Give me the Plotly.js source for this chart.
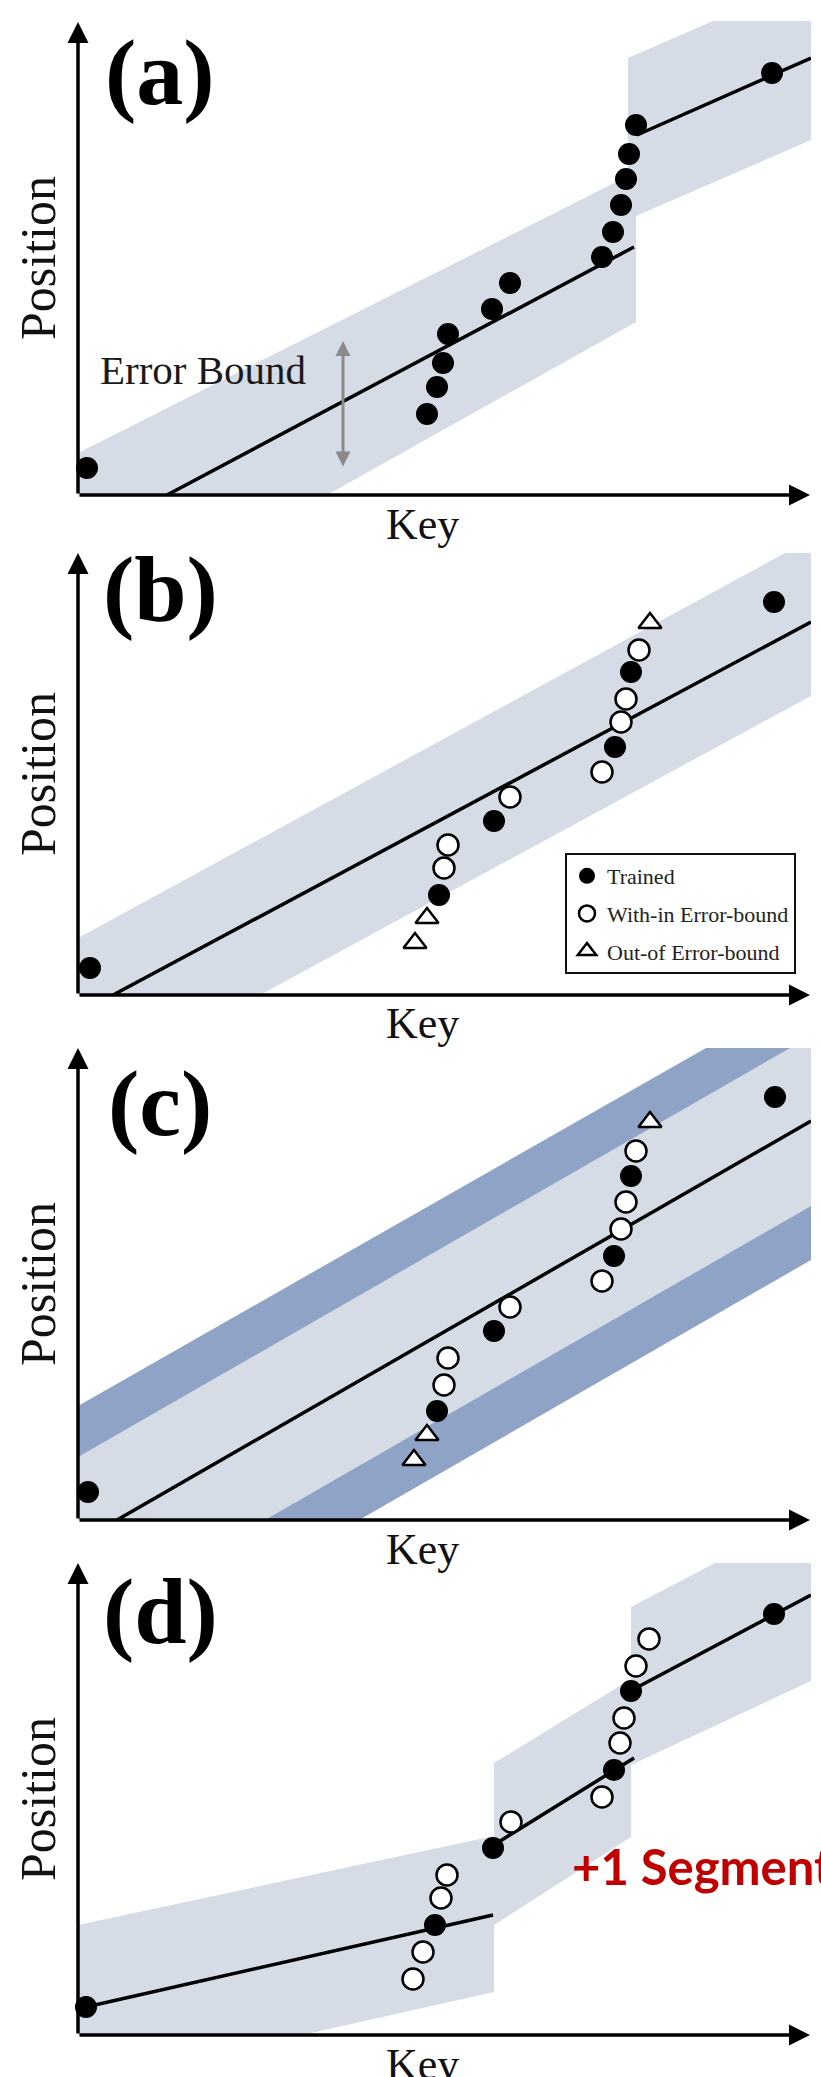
<!DOCTYPE html>
<html>
<head>
<meta charset="utf-8">
<script src="https://cdn.plot.ly/plotly-3.0.1.min.js"></script>
<style>html,body{margin:0;padding:0;background:#fff;}#chart{width:821px;height:2077px;}</style>
</head>
<body>
<div id="chart"></div>
<script>
// ---------- Panel (a): one model, two segments ----------
const aTrainedKey = [9, 349, 359, 365, 370, 414, 432, 524, 535, 543, 548, 551, 558, 694];
const aTrainedPos = [27, 81, 108, 132, 161, 186, 212, 238, 263, 290, 316, 341, 370, 422];
const aSeg1Key = [89, 556];
const aSeg1Pos = [0, 248];
const aSeg2Key = [559, 733];
const aSeg2Pos = [360, 437];
const aBand1Key = [0, 0, 558, 558, 249];
const aBand1Pos = [0, 42, 323, 173, 0];
const aBand2Key = [550, 635, 733, 733, 558, 550];
const aBand2Pos = [437, 474, 474, 355, 279, 279];
const aErrorArrowKey = [265, 265];
const aErrorArrowPos = [154, 27];

// ---------- Panel (b) ----------
const bTrainedKey = [12, 361, 416, 537, 553, 696];
const bTrainedPos = [27, 100, 174, 248, 323, 393];
const bWithinKey = [366, 370, 432, 524, 543, 548, 561];
const bWithinPos = [127, 150, 198, 223, 273, 296, 345];
const bOutKey = [337, 349, 572];
const bOutPos = [52, 77, 372];
const bLineKey = [35, 733];
const bLinePos = [0, 373];
const bBandKey = [0, 0, 707, 733, 733, 182];
const bBandPos = [0, 57, 442, 442, 299, 0];

// ---------- Panel (c) ----------
const cTrainedKey = [10, 359, 416, 536, 553, 697];
const cTrainedPos = [28, 109, 189, 264, 344, 423];
const cWithinKey = [366, 370, 432, 524, 543, 548, 558];
const cWithinPos = [135, 162, 213, 239, 291, 318, 369];
const cOutKey = [336, 349, 572];
const cOutPos = [60, 85, 398];
const cLineKey = [39, 733];
const cLinePos = [0, 399];
const cOuterBandKey = [0, 0, 628, 733, 733, 281];
const cOuterBandPos = [0, 114, 472, 472, 260, 0];
const cInnerBandKey = [0, 0, 712, 733, 733, 187];
const cInnerBandPos = [0, 63, 472, 472, 314, 0];

// ---------- Panel (d) ----------
const dTrainedKey = [8, 357, 415, 536, 553, 696];
const dTrainedPos = [28, 110, 187, 265, 344, 421];
const dWithinKey = [335, 345, 363, 369, 433, 524, 542, 546, 558, 571];
const dWithinPos = [56, 83, 137, 160, 213, 238, 292, 317, 369, 396];
const dSeg1Key = [8, 415];
const dSeg1Pos = [28, 120];
const dSeg2Key = [414, 556];
const dSeg2Pos = [189, 277];
const dSeg3Key = [556, 733];
const dSeg3Pos = [346, 440];
const dBand1Key = [0, 0, 416, 416, 224];
const dBand1Pos = [0, 110, 199, 43, 0];
const dBand2Key = [416, 416, 553, 553];
const dBand2Pos = [110, 272, 356, 198];
const dBand3Key = [553, 553, 637, 733, 733];
const dBand3Pos = [270, 428, 472, 472, 354];

// labels
const panelLabels = ['(a)', '(b)', '(c)', '(d)'];
const legendNames = ['Trained', 'With-in Error-bound', 'Out-of Error-bound'];

// ---------- layout geometry (pixels) ----------
const FIG_W = 821, FIG_H = 2077;
const PLOT_LEFT = 78, PLOT_RIGHT = 811;
const frames = [
  {top: 21, bottom: 495, yTip: 22, labelY: 72},
  {top: 553, bottom: 995, yTip: 553, labelY: 589},
  {top: 1048, bottom: 1520, yTip: 1048, labelY: 1103},
  {top: 1563, bottom: 2035, yTip: 1563, labelY: 1611}
];
const X_TIP = 810;
const LIGHT = '#d6dce6', DARK = '#8fa3c7';
const SERIF = 'Liberation Serif, Times New Roman, serif';

const px = v => v / FIG_W;
const py = v => 1 - v / FIG_H;

const layout = {
  width: FIG_W, height: FIG_H,
  margin: {l: 0, r: 0, t: 0, b: 0},
  paper_bgcolor: '#fff', plot_bgcolor: 'rgba(0,0,0,0)',
  showlegend: true,
  legend: {
    x: px(565), y: py(853), xanchor: 'left', yanchor: 'top',
    bgcolor: '#fff', bordercolor: '#111', borderwidth: 2,
    font: {family: SERIF, size: 22, color: '#222'},
    tracegroupgap: 6, itemsizing: 'trace'
  },
  annotations: []
};

const traces = [];
const ax = i => ({x: i === 0 ? 'x' : 'x' + (i + 1), y: i === 0 ? 'y' : 'y' + (i + 1)});

frames.forEach((f, i) => {
  const s = i === 0 ? '' : String(i + 1);
  layout['xaxis' + s] = {domain: [px(PLOT_LEFT), px(PLOT_RIGHT)], range: [0, PLOT_RIGHT - PLOT_LEFT],
    visible: false, fixedrange: true, anchor: 'y' + s};
  layout['yaxis' + s] = {domain: [py(f.bottom), py(f.top)], range: [0, f.bottom - f.top],
    visible: false, fixedrange: true, anchor: 'x' + s};
  const a = ax(i);
  // axes arrows
  layout.annotations.push({xref: a.x, yref: a.y, axref: a.x, ayref: a.y, x: 0, y: f.bottom - f.yTip, ax: 0, ay: 0,
    text: '', showarrow: true, arrowhead: 2, arrowsize: 1.2, arrowwidth: 3.5, arrowcolor: '#000'});
  layout.annotations.push({xref: a.x, yref: a.y, axref: a.x, ayref: a.y, x: X_TIP - PLOT_LEFT, y: 0, ax: 0, ay: 0,
    text: '', showarrow: true, arrowhead: 2, arrowsize: 1.2, arrowwidth: 3.5, arrowcolor: '#000'});
  // panel label
  layout.annotations.push({xref: 'paper', yref: 'paper', x: px(160), y: py(f.labelY), xanchor: 'center', yanchor: 'middle',
    text: '<b>' + panelLabels[i] + '</b>', showarrow: false, font: {family: SERIF, size: 94, color: '#000'}});
  // Key
  layout.annotations.push({xref: 'paper', yref: 'paper', x: px(422), y: py(f.bottom + 29), xanchor: 'center', yanchor: 'middle',
    text: 'Key', showarrow: false, font: {family: SERIF, size: 44, color: '#111'}});
  // Position
  layout.annotations.push({xref: 'paper', yref: 'paper', x: px(38), y: py((f.top + f.bottom) / 2), xanchor: 'center', yanchor: 'middle',
    text: 'Position', textangle: -90, showarrow: false, font: {family: SERIF, size: 50, color: '#111'}});
});

function band(i, xs, ys, color) {
  const a = ax(i);
  traces.push({type: 'scatter', mode: 'lines', x: xs, y: ys, fill: 'toself', fillcolor: color,
    line: {width: 0, color: color}, xaxis: a.x, yaxis: a.y, showlegend: false, hoverinfo: 'skip'});
}
function seg(i, xs, ys) {
  const a = ax(i);
  traces.push({type: 'scatter', mode: 'lines', x: xs, y: ys, line: {color: '#000', width: 3.5},
    xaxis: a.x, yaxis: a.y, showlegend: false, hoverinfo: 'skip'});
}
const markerStyles = {
  trained: {size: 22, color: '#000', line: {width: 0}},
  within: {size: 21, color: '#fff', line: {color: '#000', width: 2.5}},
  out: {symbol: 'triangle-up', size: 20, color: '#fff', line: {color: '#000', width: 2.5}}
};
function pts(i, xs, ys, kind, legendIdx) {
  const a = ax(i);
  traces.push({type: 'scatter', mode: 'markers', x: xs, y: ys, marker: markerStyles[kind], cliponaxis: false,
    xaxis: a.x, yaxis: a.y, name: legendIdx !== undefined ? legendNames[legendIdx] : kind,
    legendgroup: legendIdx !== undefined ? 'g' + legendIdx : undefined,
    showlegend: legendIdx !== undefined, hoverinfo: 'skip'});
}

// panel (a)
band(0, aBand1Key, aBand1Pos, LIGHT);
band(0, aBand2Key, aBand2Pos, LIGHT);
seg(0, aSeg1Key, aSeg1Pos);
seg(0, aSeg2Key, aSeg2Pos);
pts(0, aTrainedKey, aTrainedPos, 'trained');
layout.annotations.push({xref: 'x', yref: 'y', axref: 'x', ayref: 'y', x: aErrorArrowKey[0], y: aErrorArrowPos[0],
  ax: aErrorArrowKey[1], ay: aErrorArrowPos[1], text: '', showarrow: true, arrowside: 'end+start',
  arrowhead: 2, startarrowhead: 2, arrowsize: 1, startarrowsize: 1, arrowwidth: 3, arrowcolor: '#8a8a8a'});
layout.annotations.push({xref: 'x', yref: 'y', x: 125, y: 125, xanchor: 'center', yanchor: 'middle',
  text: 'Error Bound', showarrow: false, font: {family: SERIF, size: 41, color: '#1a1a1a'}});

// panel (b)
band(1, bBandKey, bBandPos, LIGHT);
seg(1, bLineKey, bLinePos);
pts(1, bTrainedKey, bTrainedPos, 'trained', 0);
pts(1, bWithinKey, bWithinPos, 'within', 1);
pts(1, bOutKey, bOutPos, 'out', 2);

// panel (c)
band(2, cOuterBandKey, cOuterBandPos, DARK);
band(2, cInnerBandKey, cInnerBandPos, LIGHT);
seg(2, cLineKey, cLinePos);
pts(2, cTrainedKey, cTrainedPos, 'trained');
pts(2, cWithinKey, cWithinPos, 'within');
pts(2, cOutKey, cOutPos, 'out');

// panel (d)
band(3, dBand1Key, dBand1Pos, LIGHT);
band(3, dBand2Key, dBand2Pos, LIGHT);
band(3, dBand3Key, dBand3Pos, LIGHT);
seg(3, dSeg1Key, dSeg1Pos);
seg(3, dSeg2Key, dSeg2Pos);
seg(3, dSeg3Key, dSeg3Pos);
pts(3, dTrainedKey, dTrainedPos, 'trained');
pts(3, dWithinKey, dWithinPos, 'within');
layout.annotations.push({xref: 'x4', yref: 'y4', x: 492, y: 169, xanchor: 'left', yanchor: 'middle',
  text: '<b>+1 Segment</b>', showarrow: false, font: {family: 'Lato, Liberation Sans, sans-serif', size: 49, color: '#c00000'}});

Plotly.newPlot('chart', traces, layout, {staticPlot: true, displayModeBar: false});
</script>
</body>
</html>
